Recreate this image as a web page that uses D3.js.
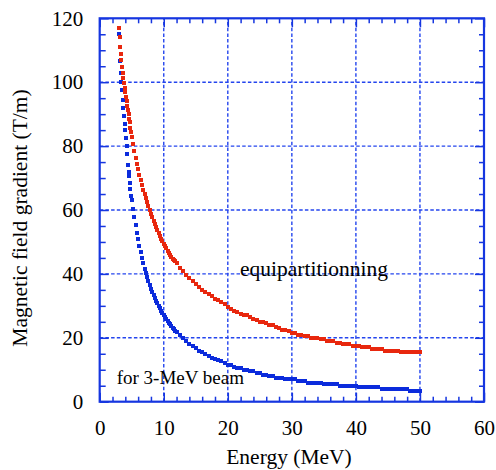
<!DOCTYPE html>
<html>
<head>
<meta charset="utf-8">
<script src="https://cdn.jsdelivr.net/npm/d3@7/dist/d3.min.js"></script>
<style>
  body { margin: 0; font-family: 'Liberation Serif'; }
  svg text { font-family: 'Liberation Serif' !important; }
  #warm { position: absolute; left: 0; top: 0; opacity: 0; font: 21px 'Liberation Serif'; }
</style>
</head>
<body>
<div id="warm">Energy (MeV) 0123456789 Magnetic field gradient (T/m)</div>
<script>
// beam energy (MeV), same grid for both curves
var energy = [
  3.0, 3.1, 3.2, 3.3, 3.4, 3.5, 3.6, 3.7, 3.8, 3.9, 4.0, 4.1, 4.2, 4.3, 4.4, 4.5, 4.6, 4.7, 4.8, 4.9, 5.0,
  5.2, 5.4, 5.6, 5.8, 6.0, 6.2, 6.4, 6.6, 6.8, 7.0, 7.2, 7.4, 7.6, 7.8, 8.0, 8.2, 8.4, 8.6, 8.8, 9.0,
  9.2, 9.4, 9.6, 9.8, 10.0, 10.2, 10.4, 10.6, 10.8, 11.0, 11.2, 11.4, 11.6, 11.8, 12.0,
  12.5, 13, 13.5, 14, 14.5, 15, 15.5, 16, 16.5, 17, 17.5, 18, 18.5, 19, 19.5,
  20, 20.5, 21, 21.5, 22, 22.5, 23, 23.5, 24, 24.5, 25, 25.5, 26, 26.5, 27, 27.5, 28, 28.5, 29, 29.5,
  30, 30.5, 31, 31.5, 32, 32.5, 33, 33.5, 34, 34.5, 35, 35.5, 36, 36.5, 37, 37.5, 38, 38.5, 39, 39.5,
  40, 40.5, 41, 41.5, 42, 42.5, 43, 43.5, 44, 44.5, 45, 45.5, 46, 46.5, 47, 47.5, 48, 48.5, 49, 49.5, 50
];

// equipartitionning gradient (T/m)
var equipGradient = [
  117.0, 114.0, 111.0, 108.8, 106.8, 104.8, 103.0, 101.3, 99.7, 98.2, 96.8, 95.4, 94.0, 92.6, 91.2, 89.9, 88.6, 87.4, 85.6, 84.3, 83.0,
  80.8, 78.6, 76.4, 74.5, 72.8, 71.0, 69.3, 67.8, 66.3, 65.0, 63.7, 62.4, 61.2, 60.0, 58.8, 57.7, 56.6, 55.6, 54.6, 53.7,
  52.8, 51.9, 51.0, 50.2, 49.4, 48.7, 48.0, 47.3, 46.6, 46.0, 45.4, 44.8, 44.3, 43.9, 43.4,
  42.0, 40.8, 39.7, 38.7, 37.7, 36.8, 36.0, 35.1, 34.4, 33.6, 33.0, 32.3, 31.7, 31.1, 30.5,
  29.5, 29, 28.5, 28, 27.5, 27, 27, 26.5, 26, 25.5, 25, 25, 24.5, 24, 24, 23.5, 23, 22.5, 22.5, 22,
  21.5, 21.5, 21, 21, 20.5, 20.5, 20, 20, 20, 19.5, 19.5, 19, 19, 19, 18.5, 18.5, 18, 18, 18, 17.5,
  17.5, 17.5, 17, 17, 17, 16.5, 16.5, 16.5, 16.5, 16, 16, 16, 16, 16, 15.5, 15.5, 15.5, 15.5, 15.5, 15.5, 15.5
];

// gradient for a 3-MeV beam (T/m)
var beamGradient = [
  115, 111, 106.5, 103, 100, 97.5, 94.5, 92, 89.5, 87, 85, 82.5, 80, 77.5, 74, 72, 70.5, 68.5, 66.5, 64.5, 63,
  60.3, 57.8, 55.2, 52.8, 50.8, 48.7, 46.8, 45.0, 43.3, 41.6, 40.2, 38.9, 37.7, 36.5, 35.4, 34.4, 33.4, 32.5, 31.6, 30.8,
  30.0, 29.2, 28.5, 27.8, 27.1, 26.5, 25.9, 25.3, 24.7, 24.2, 23.7, 23.2, 22.7, 22.2, 21.8,
  20.8, 19.8, 18.9, 18.1, 17.4, 16.7, 16.0, 15.4, 14.9, 14.4, 13.8, 13.4, 12.9, 12.6, 12.2,
  11.5, 11.5, 11, 10.5, 10.5, 10, 10, 9.5, 9.5, 9, 9, 8.5, 8.5, 8, 8, 7.5, 7.5, 7.5, 7, 7,
  7, 7, 6.5, 6.5, 6.5, 6, 6, 6, 6, 6, 5.5, 5.5, 5.5, 5.5, 5.5, 5, 5, 5, 5, 5,
  5, 4.5, 4.5, 4.5, 4.5, 4.5, 4.5, 4.5, 4, 4, 4, 4, 4, 4, 4, 4, 4, 3.5, 3.5, 3.5, 3.5
];

var xTicks = [0, 10, 20, 30, 40, 50, 60],
    xMinor = [2, 4, 6, 8, 12, 14, 16, 18, 22, 24, 26, 28, 32, 34, 36, 38, 42, 44, 46, 48, 52, 54, 56, 58],
    yTicks = [0, 20, 40, 60, 80, 100, 120],
    yMinor = [5, 10, 15, 25, 30, 35, 45, 50, 55, 65, 70, 75, 85, 90, 95, 105, 110, 115],
    xGrid = [10, 20, 30, 40, 50],
    yGrid = [20, 40, 60, 80, 100];

var frameColor = '#1636e0',
    gridColor = '#2445ee',
    equipColor = '#e8270e',
    beamColor = '#0b2bdc',
    svg, x, y;

svg = d3.select('body').append('svg')
  .style('position', 'absolute')
  .style('left', '0px')
  .style('top', '0px')
  .attr('width', 496)
  .attr('height', 470);

x = d3.scaleLinear().domain([0, 60]).range([99.7, 484]);
y = d3.scaleLinear().domain([0, 120]).range([401.7, 18.3]);

function toPoints(values) {
  return values.map(function (g, i) {
    return { e: energy[i], g: g };
  });
}

// dotted grid
svg.append('g').selectAll('line')
  .data(xGrid)
  .enter().append('line')
  .attr('x1', x).attr('x2', x)
  .attr('y1', y(0)).attr('y2', y(120))
  .attr('stroke', gridColor)
  .attr('stroke-width', 1.4)
  .attr('stroke-dasharray', '3.5,2.2');

svg.append('g').selectAll('line')
  .data(yGrid)
  .enter().append('line')
  .attr('y1', y).attr('y2', y)
  .attr('x1', x(0)).attr('x2', x(60))
  .attr('stroke', gridColor)
  .attr('stroke-width', 1.4)
  .attr('stroke-dasharray', '3.5,2.2');

function setFont(sel, size) {
  return sel
    .attr('font-family', 'Liberation Serif')
    .style('font-family', "'Liberation Serif'")
    .attr('font-size', size)
    .style('font-size', size + 'px');
}

function addAxis(axis, transform) {
  var g = svg.append('g')
    .attr('transform', transform)
    .call(axis);
  g.select('.domain').remove();
  g.selectAll('line')
    .attr('stroke', frameColor)
    .attr('stroke-width', 1.5);
  setFont(g, 21);
  setFont(g.selectAll('text'), 21).attr('fill', '#000');
  return g;
}

function noLabel() { return ''; }

// labelled major ticks, inward
addAxis(d3.axisBottom(x).tickValues(xTicks).tickSizeInner(-9).tickSizeOuter(0)
  .tickPadding(18.5).tickFormat(d3.format('d')), 'translate(0,' + y(0) + ')');
addAxis(d3.axisLeft(y).tickValues(yTicks).tickSizeInner(-9).tickSizeOuter(0)
  .tickPadding(16.5).tickFormat(d3.format('d')), 'translate(' + x(0) + ',0)');
addAxis(d3.axisTop(x).tickValues(xTicks).tickSizeInner(-9).tickSizeOuter(0)
  .tickFormat(noLabel), 'translate(0,' + y(120) + ')');
addAxis(d3.axisRight(y).tickValues(yTicks).tickSizeInner(-9).tickSizeOuter(0)
  .tickFormat(noLabel), 'translate(' + x(60) + ',0)');

// minor ticks on all four sides
addAxis(d3.axisBottom(x).tickValues(xMinor).tickSizeInner(-5).tickSizeOuter(0)
  .tickFormat(noLabel), 'translate(0,' + y(0) + ')');
addAxis(d3.axisTop(x).tickValues(xMinor).tickSizeInner(-5).tickSizeOuter(0)
  .tickFormat(noLabel), 'translate(0,' + y(120) + ')');
addAxis(d3.axisLeft(y).tickValues(yMinor).tickSizeInner(-6).tickSizeOuter(0)
  .tickFormat(noLabel), 'translate(' + x(0) + ',0)');
addAxis(d3.axisRight(y).tickValues(yMinor).tickSizeInner(-5).tickSizeOuter(0)
  .tickFormat(noLabel), 'translate(' + x(60) + ',0)');

// frame
svg.append('rect')
  .attr('x', x(0))
  .attr('y', y(120))
  .attr('width', x(60) - x(0))
  .attr('height', y(0) - y(120))
  .attr('fill', 'none')
  .attr('stroke', frameColor)
  .attr('stroke-width', 2.2);

// markers: 3-MeV beam first, equipartition drawn on top
function drawSeries(values, color) {
  svg.append('g').selectAll('rect')
    .data(toPoints(values))
    .enter().append('rect')
    .attr('x', function (d) { return x(d.e) - 2; })
    .attr('y', function (d) { return y(d.g) - 2; })
    .attr('width', 4)
    .attr('height', 4)
    .attr('fill', color)
    .attr('shape-rendering', 'crispEdges');
}

drawSeries(beamGradient, beamColor);
drawSeries(equipGradient, equipColor);

function addText(px, py, size, label, anchor) {
  var t = svg.append('text')
    .attr('x', px)
    .attr('y', py)
    .attr('text-anchor', anchor || 'start')
    .text(label);
  return setFont(t, size);
}

// annotations
addText(x(21.9), y(39.4), 21.5, 'equipartitionning');
addText(x(2.65), y(5.5), 19, 'for 3-MeV beam');

// axis titles
addText(289, 464, 21.5, 'Energy (MeV)', 'middle');
addText(0, 0, 21.5, 'Magnetic field gradient (T/m)', 'middle')
  .attr('transform', 'translate(27,218) rotate(-90)');
</script>
</body>
</html>
